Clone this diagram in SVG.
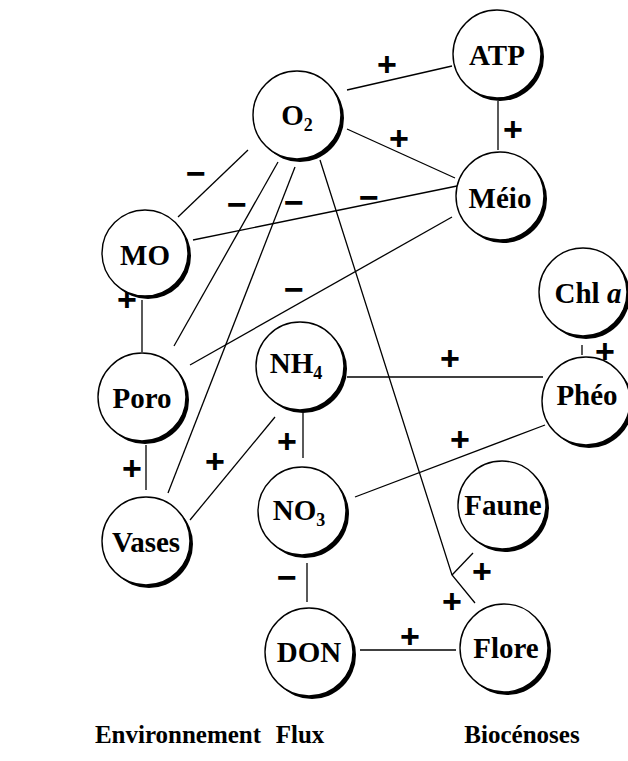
<svg xmlns="http://www.w3.org/2000/svg" width="628" height="761" viewBox="0 0 628 761">
<defs>
<style>
.sh{fill:#000}
.nd{fill:#fff;stroke:#000;stroke-width:1.4}
.lb{font-family:"Liberation Serif","Times New Roman",serif;font-weight:bold;font-size:29px;text-anchor:middle;fill:#000}
.sub{font-size:18px}
.ln{stroke:#000;stroke-width:1.3;fill:none}
.sg{font-family:"Liberation Sans",Arial,sans-serif;font-weight:bold;font-size:34px;text-anchor:middle;fill:#000}
.ft{font-family:"Liberation Serif","Times New Roman",serif;font-weight:bold;font-size:25px;text-anchor:middle;fill:#000}
</style>
</defs>
<rect width="628" height="761" fill="#fff"/>
<g id="connectors">
<line class="ln" x1="347" y1="90" x2="452" y2="66"/>
<line class="ln" x1="498" y1="101" x2="498" y2="150"/>
<line class="ln" x1="347" y1="129" x2="455" y2="178"/>
<line class="ln" x1="248" y1="150" x2="178" y2="217"/>
<line class="ln" x1="193" y1="240" x2="457" y2="186"/>
<line class="ln" x1="278" y1="162" x2="174" y2="346"/>
<line class="ln" x1="295" y1="167" x2="168" y2="493"/>
<polyline class="ln" points="320,160 452,575 475,603"/>
<line class="ln" x1="473" y1="553" x2="452" y2="575"/>
<line class="ln" x1="452" y1="217" x2="190" y2="365"/>
<line class="ln" x1="142" y1="300" x2="142" y2="352"/>
<line class="ln" x1="146" y1="445" x2="146" y2="490"/>
<line class="ln" x1="347" y1="377" x2="543" y2="377"/>
<line class="ln" x1="582" y1="345" x2="582" y2="355"/>
<line class="ln" x1="303" y1="413" x2="303" y2="458"/>
<line class="ln" x1="275" y1="417" x2="190" y2="520"/>
<line class="ln" x1="355" y1="497" x2="545" y2="425"/>
<line class="ln" x1="307" y1="563" x2="307" y2="602"/>
<line class="ln" x1="360" y1="650" x2="456" y2="650"/>
<text class="sg" x="387" y="76">+</text>
<text class="sg" x="513" y="141">+</text>
<text class="sg" x="399" y="150">+</text>
<text class="sg" x="196" y="185">−</text>
<text class="sg" x="237" y="216">−</text>
<text class="sg" x="294" y="214">−</text>
<text class="sg" x="369" y="209">−</text>
<text class="sg" x="294" y="301">−</text>
<text class="sg" x="127" y="311">+</text>
<text class="sg" x="132" y="480">+</text>
<text class="sg" x="215" y="473">+</text>
<text class="sg" x="450" y="370">+</text>
<text class="sg" x="605" y="363">+</text>
<text class="sg" x="287" y="453">+</text>
<text class="sg" x="460" y="451">+</text>
<text class="sg" x="482" y="583">+</text>
<text class="sg" x="452" y="613">+</text>
<text class="sg" x="410" y="648">+</text>
<text class="sg" x="287" y="589">−</text>
</g>
<g id="n-o2"><circle class="sh" cx="300" cy="118" r="44"/><circle class="nd" cx="297" cy="115" r="44"/><text class="lb" x="297" y="125">O<tspan class="sub" dy="6">2</tspan></text></g>
<g id="n-atp"><circle class="sh" cx="500" cy="57" r="44"/><circle class="nd" cx="497" cy="54" r="44"/><text class="lb" x="497" y="65">ATP</text></g>
<g id="n-meio"><circle class="sh" cx="503" cy="199" r="44"/><circle class="nd" cx="500" cy="196" r="44"/><text class="lb" x="500" y="208">Méio</text></g>
<g id="n-mo"><circle class="sh" cx="148" cy="256" r="43"/><circle class="nd" cx="145" cy="253" r="43"/><text class="lb" x="145" y="265">MO</text></g>
<g id="n-chla"><circle class="sh" cx="586" cy="295" r="44"/><circle class="nd" cx="583" cy="292" r="44"/><text class="lb" x="588" y="303">Chl <tspan font-style="italic">a</tspan></text></g>
<g id="n-pheo"><circle class="sh" cx="589" cy="404" r="44"/><circle class="nd" cx="586" cy="401" r="44"/><text class="lb" x="587" y="405">Phéo</text></g>
<g id="n-nh4"><circle class="sh" cx="303" cy="369" r="44"/><circle class="nd" cx="300" cy="366" r="44"/><text class="lb" x="296" y="373">NH<tspan class="sub" dy="6">4</tspan></text></g>
<g id="n-poro"><circle class="sh" cx="145" cy="400" r="44"/><circle class="nd" cx="142" cy="397" r="44"/><text class="lb" x="142" y="408">Poro</text></g>
<g id="n-vases"><circle class="sh" cx="149" cy="544" r="44"/><circle class="nd" cx="146" cy="541" r="44"/><text class="lb" x="146" y="552">Vases</text></g>
<g id="n-no3"><circle class="sh" cx="305" cy="514" r="44"/><circle class="nd" cx="302" cy="511" r="44"/><text class="lb" x="299" y="520">NO<tspan class="sub" dy="6">3</tspan></text></g>
<g id="n-faune"><circle class="sh" cx="505" cy="508" r="44"/><circle class="nd" cx="502" cy="505" r="44"/><text class="lb" x="503" y="515">Faune</text></g>
<g id="n-don"><circle class="sh" cx="312" cy="655" r="44"/><circle class="nd" cx="309" cy="652" r="44"/><text class="lb" x="309" y="662">DON</text></g>
<g id="n-flore"><circle class="sh" cx="507" cy="651" r="44"/><circle class="nd" cx="504" cy="648" r="44"/><text class="lb" x="506" y="658">Flore</text></g>
<g id="footer">
<text class="ft" x="178" y="743">Environnement</text>
<text class="ft" x="300" y="743">Flux</text>
<text class="ft" x="522" y="743">Biocénoses</text>
</g>
</svg>
